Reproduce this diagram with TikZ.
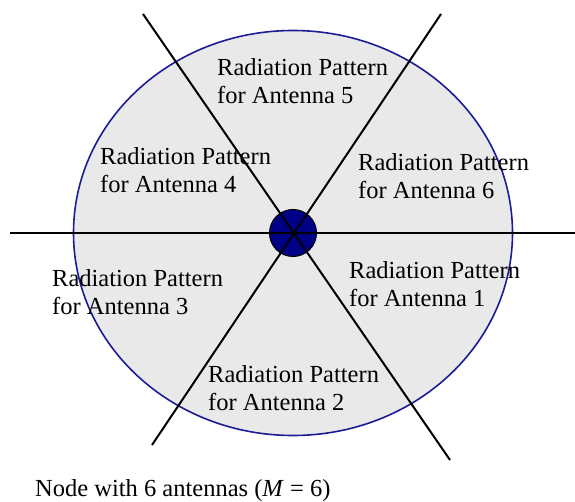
\documentclass[tikz,border=0pt]{standalone}
\usepackage{fontspec}
\setmainfont{Liberation Serif}
\definecolor{patfill}{RGB}{233,233,233}
\definecolor{patedge}{RGB}{28,28,150}
\definecolor{nodeblue}{RGB}{0,0,135}
\tikzset{
  pattern/.style={draw=patedge, fill=patfill, line width=1.6pt},
  antnode/.style={circle, draw=black, fill=nodeblue, line width=1pt, minimum size=47pt, inner sep=0pt},
  axisline/.style={draw=black, line width=2pt},
  lbl/.style={font=\fontsize{24.5}{28}\selectfont, align=left, anchor=base west, inner sep=0pt}
}
\begin{document}
\begin{tikzpicture}[x=1pt, y=-1pt]
\useasboundingbox (0,0) rectangle (575,502);
\coordinate (c) at (293,233);
\draw[pattern] (c) ellipse [x radius=219.5, y radius=202.5];
\node[antnode] (n) at (c) {};
\coordinate (tl) at (143,14);
\coordinate (br) at (450,460);
\coordinate (tr) at (441,14);
\coordinate (bl) at (152,445);
\coordinate (hl) at (10,233);
\coordinate (hr) at (575,233);
\draw[axisline] (hl) -- (hr);
\draw[axisline] (tl) -- (br);
\draw[axisline] (tr) -- (bl);
\node[lbl] (a5) at (217,104) {Radiation Pattern\\for Antenna 5};
\node[lbl] (a4) at (100,193) {Radiation Pattern\\for Antenna 4};
\node[lbl] (a6) at (358,199) {Radiation Pattern\\for Antenna 6};
\node[lbl] (a3) at (52,314) {Radiation Pattern\\for Antenna 3};
\node[lbl] (a1) at (349,306) {Radiation Pattern\\for Antenna 1};
\node[lbl] (a2) at (208,410) {Radiation Pattern\\for Antenna 2};
\node[lbl] (cap) at (35,496) {Node with 6 antennas (\textit{M} = 6)};
\end{tikzpicture}
\end{document}
